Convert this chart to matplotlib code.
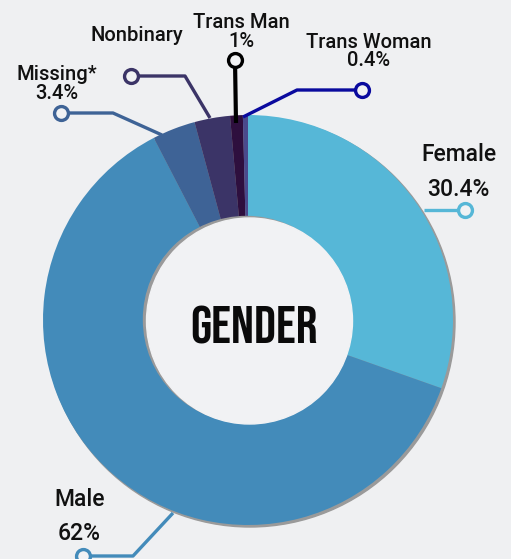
import matplotlib.pyplot as plt
from matplotlib.patches import Circle, Rectangle

# data
categories = ["Female", "Male", "Missing*", "Nonbinary", "Trans Man", "Trans Woman"]
shares = [30.4, 62.0, 3.4, 2.8, 1.0, 0.4]
pct_labels = ["30.4%", "62%", "3.4%", "", "1%", "0.4%"]
slice_colors = ["#56b7d7", "#438bba", "#3e6396", "#3b3467", "#2e0f3e", "#4a4a8c"]
line_colors = ["#56b7d7", "#438bba", "#3e6396", "#3b3467", "#000000", "#0a0a9e"]

W, H = 511, 559
BG = "#eff0f2"


def py(y):
    # pixel row (from top) -> data y
    return H - y


fig = plt.figure(figsize=(W / 100, H / 100), dpi=100, facecolor=BG)
ax = fig.add_axes([0, 0, 1, 1])
ax.set_facecolor(BG)

cx, cy, R, r = 248, py(320), 205, 103

# soft shadow behind the ring
ax.add_patch(Circle((cx + 2, cy - 2), R, color="#9a9a9a", zorder=0))
ax.pie(shares, colors=slice_colors, startangle=90, counterclock=False,
       center=(cx, cy), radius=R, wedgeprops=dict(linewidth=0))

# hole with shadow on the left
ax.add_patch(Circle((cx - 1.5, cy + 0.5), r, color="#9a9a9a", zorder=3))
ax.add_patch(Circle((cx + 1.5, cy - 1), r, color="#f1f2f4", zorder=4))
ax.text(254, py(344), "GENDER", ha="center", va="baseline", fontsize=39,
        family=["Bebas Neue", "DejaVu Sans"], color="#0a0a0a", zorder=5)

# leader lines (pixel coords: start on slice, elbow, end marker)
leaders = [
    [(424, 210), (465, 210)],
    [(173, 513), (133, 556), (83, 556)],
    [(162, 135), (113, 113), (61, 113)],
    [(210, 118), (185, 76), (131, 76)],
    [(236, 123), (235, 60)],
    [(243, 117), (297, 90), (362, 90)],
]
lw = [2.4, 2.4, 2.4, 2.4, 3.0, 2.4]
for pts, col, w in zip(leaders, line_colors, lw):
    xs = [p[0] for p in pts]
    ys = [py(p[1]) for p in pts]
    ax.plot(xs, ys, color=col, lw=w, solid_capstyle="butt", zorder=6)
    ax.plot(xs[-1], ys[-1], "o", ms=10, mfc="#f1f2f4", mec=col, mew=2.4,
            zorder=7, clip_on=False)

# labels: (name xy, pct xy, size)
label_pos = [
    ((459, 161), (458, 196), 16.5),
    ((80, 506), (79, 540), 16.5),
    ((57, 80), (57, 99), 14.5),
    ((137, 41), None, 14.5),
    ((241, 28), (241, 47), 14.5),
    ((369, 48), (369, 66), 14.5),
]
font = dict(family=["Roboto Medium", "Roboto", "DejaVu Sans"], fontweight=500,
            color="#111111", ha="center", va="baseline", zorder=8)
for name, pct, (npos, ppos, fs) in zip(categories, pct_labels, label_pos):
    t = ax.text(npos[0], py(npos[1]), name, fontsize=fs, **font)
    if name == "Nonbinary":
        # the source cuts this label just under its baseline
        clip = Rectangle((0, py(npos[1] + 1)), W, 200, transform=ax.transData)
        t.set_clip_path(clip)
    if ppos is not None and pct:
        ax.text(ppos[0], py(ppos[1]), pct, fontsize=fs, **font)

ax.set_xlim(0, W)
ax.set_ylim(0, H)
ax.set_aspect("equal")
ax.axis("off")

fig.savefig("out.png", dpi=100, facecolor=BG)
